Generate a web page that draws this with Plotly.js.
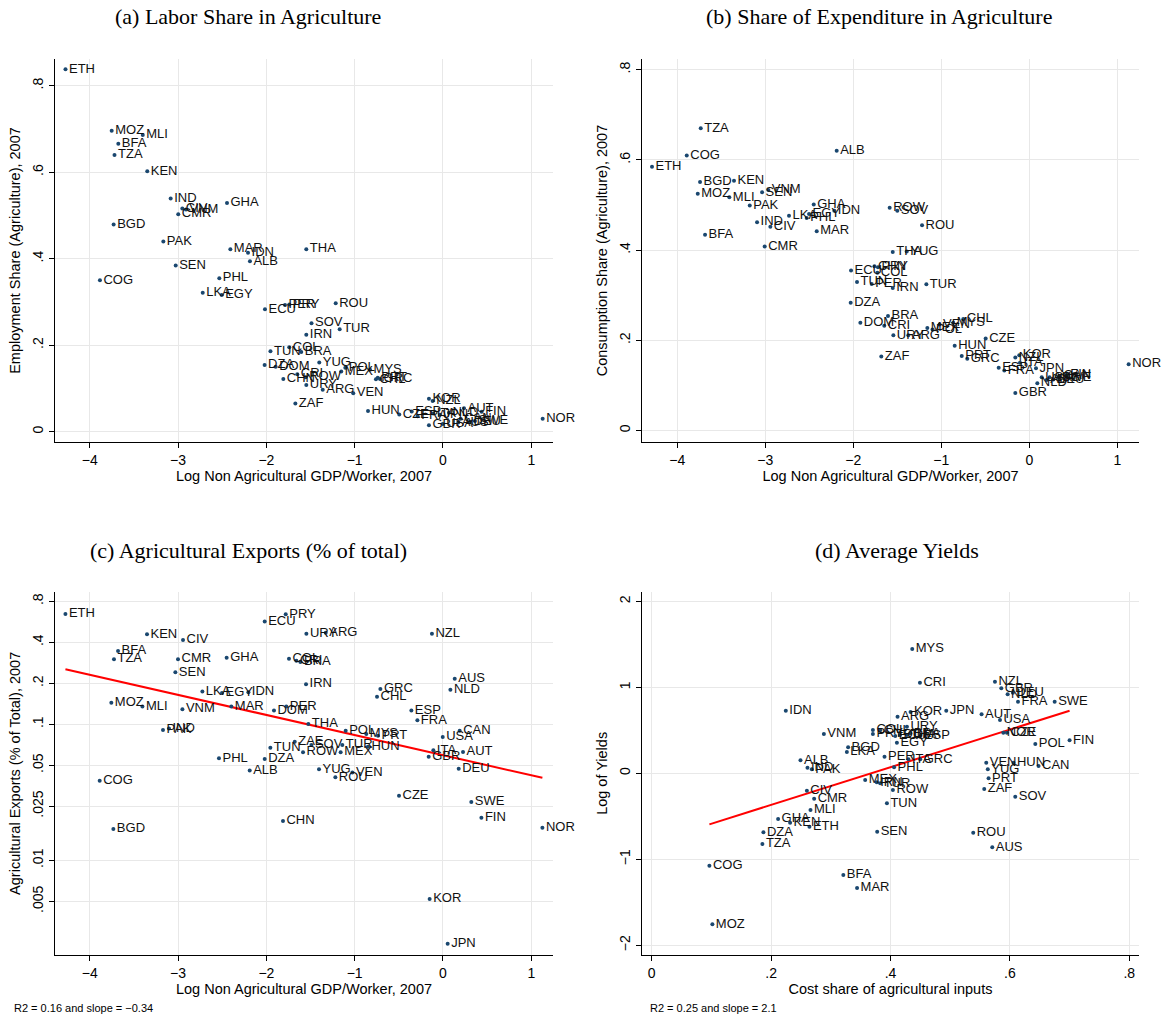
<!DOCTYPE html>
<html>
<head>
<meta charset="utf-8">
<script src="https://cdn.plot.ly/plotly-3.0.1.min.js"></script>
<style>html,body{margin:0;padding:0;background:#fff}#chart{width:1161px;height:1023px}</style>
</head>
<body>
<div id="chart"></div>
<script>
// ---------- Panel (a): Labor share in agriculture ----------
const countriesA = ["ETH","MOZ","MLI","BFA","TZA","KEN","IND","CIV","VNM","CMR","GHA","BGD","PAK","MAR","IDN","ALB","THA","SEN","COG","PHL","LKA","EGY","ECU","PER","PRY","ROU","SOV","TUR","IRN","COL","TUN","BRA","YUG","DZA","DOM","CRI","MEX","POL","MYS","CHN","ROW","URY","ARG","VEN","CHL","PRT","GRC","ZAF","HUN","CZE","KOR","NZL","ESP","FRA","ITA","JPN","NLD","AUT","FIN","GBR","USA","AUS","DEU","SWE","CAN","NOR"];
const logGdpA = [-4.275,-3.752,-3.40,-3.677,-3.72,-3.349,-3.084,-2.952,-2.91,-2.998,-2.446,-3.73,-3.167,-2.408,-2.208,-2.186,-1.548,-3.027,-3.885,-2.533,-2.721,-2.506,-2.016,-1.789,-1.74,-1.215,-1.489,-1.170,-1.548,-1.741,-1.954,-1.605,-1.401,-2.020,-1.895,-1.65,-1.152,-1.106,-0.826,-1.808,-1.555,-1.548,-1.362,-1.016,-0.759,-0.739,-0.713,-1.672,-0.849,-0.495,-0.159,-0.117,-0.354,-0.287,-0.11,-0.034,0.068,0.238,0.438,-0.159,-0.003,0.174,0.306,0.362,0.20,1.129];
const empShareA = [0.838,0.696,0.686,0.666,0.640,0.602,0.539,0.516,0.514,0.503,0.529,0.479,0.440,0.422,0.414,0.394,0.422,0.384,0.350,0.355,0.321,0.316,0.283,0.293,0.294,0.297,0.251,0.237,0.224,0.195,0.186,0.184,0.160,0.154,0.150,0.133,0.139,0.148,0.143,0.122,0.126,0.108,0.097,0.089,0.121,0.125,0.122,0.065,0.048,0.040,0.076,0.071,0.047,0.036,0.042,0.039,0.044,0.054,0.046,0.015,0.018,0.021,0.023,0.025,0.030,0.030];

// ---------- Panel (b): Share of expenditure in agriculture ----------
const countriesB = ["TZA","COG","ALB","ETH","BGD","KEN","MOZ","MLI","SEN","VNM","PAK","GHA","IDN","LKA","EGY","PHL","IND","CIV","MAR","BFA","CMR","ROW","SOV","ROU","THA","YUG","ECU","CHN","PRY","COL","TUN","PER","IRN","TUR","DZA","BRA","DOM","CRI","URY","ARG","MEX","POL","VEN","MYS","CHL","CZE","HUN","PRT","GRC","ESP","FRA","NZL","KOR","ITA","JPN","USA","NLD","AUT","DEU","SWE","FIN","CAN","AUS","GBR","NOR","ZAF"];
const logGdpB = [-3.734,-3.893,-2.189,-4.288,-3.742,-3.356,-3.768,-3.409,-3.037,-2.966,-3.177,-2.45,-2.216,-2.731,-2.503,-2.53,-3.094,-2.943,-2.416,-3.685,-3.007,-1.587,-1.5,-1.219,-1.552,-1.393,-2.026,-1.76,-1.72,-1.727,-1.958,-1.791,-1.552,-1.170,-2.03,-1.606,-1.92,-1.648,-1.545,-1.375,-1.159,-1.10,-1.02,-0.864,-0.75,-0.496,-0.848,-0.768,-0.705,-0.348,-0.284,-0.159,-0.114,-0.106,0.076,0.141,0.091,0.197,0.273,0.330,0.425,0.349,0.23,-0.159,1.129,-1.682];
const consShareB = [0.670,0.610,0.620,0.585,0.551,0.554,0.525,0.517,0.528,0.533,0.499,0.501,0.487,0.476,0.480,0.471,0.462,0.452,0.442,0.434,0.408,0.494,0.487,0.455,0.396,0.397,0.355,0.364,0.362,0.350,0.329,0.325,0.316,0.324,0.283,0.254,0.239,0.232,0.211,0.211,0.227,0.224,0.235,0.239,0.247,0.204,0.188,0.165,0.159,0.139,0.133,0.162,0.167,0.150,0.138,0.118,0.105,0.112,0.113,0.118,0.123,0.121,0.118,0.083,0.147,0.164];

// ---------- Panel (c): Agricultural exports (% of total) ----------
const countriesC = ["ETH","KEN","CIV","BFA","TZA","CMR","GHA","SEN","ECU","PRY","URY","ARG","COL","CRI","BRA","IRN","LKA","EGY","IDN","MOZ","MLI","VNM","MAR","DOM","PER","THA","PAK","IND","TUN","ZAE","SOV","ROW","PHL","DZA","ALB","COG","YUG","BGD","CHN","NZL","AUS","NLD","GRC","CHL","ESP","FRA","POL","MYS","PRT","HUN","TUR","MEX","ROU","VEN","CZE","USA","CAN","ITA","GBR","AUT","DEU","SWE","FIN","NOR","KOR","JPN"];
const logGdpC = [-4.276,-3.352,-2.944,-3.68,-3.726,-3.001,-2.450,-3.031,-2.019,-1.781,-1.547,-1.328,-1.744,-1.66,-1.615,-1.551,-2.725,-2.503,-2.204,-3.756,-3.404,-2.951,-2.397,-1.914,-1.774,-1.525,-3.171,-3.103,-1.955,-1.679,-1.49,-1.585,-2.537,-2.019,-2.189,-3.888,-1.404,-3.733,-1.812,-0.125,0.133,0.084,-0.709,-0.747,-0.358,-0.29,-1.102,-0.868,-0.736,-0.85,-1.14,-1.159,-1.219,-1.026,-0.498,-0.003,0.189,-0.109,-0.162,0.227,0.178,0.321,0.435,1.126,-0.151,0.053];
const exportShareC = [0.646,0.458,0.416,0.345,0.301,0.301,0.308,0.241,0.570,0.642,0.463,0.471,0.303,0.293,0.287,0.197,0.174,0.170,0.172,0.144,0.135,0.129,0.135,0.126,0.135,0.1005,0.0908,0.093,0.0673,0.0745,0.0705,0.0623,0.0562,0.0556,0.0457,0.0385,0.0467,0.0170,0.0195,0.463,0.216,0.179,0.182,0.159,0.126,0.107,0.0898,0.085,0.0825,0.0685,0.0705,0.0623,0.0408,0.0442,0.0299,0.0807,0.0898,0.0644,0.0578,0.0626,0.0472,0.0268,0.0206,0.0174,0.0052,0.00244];
const fitC = {intercept: -2.825, slope: -0.34};   // ln(share) = a + b*x
const yTicksC = [0.005,0.01,0.025,0.05,0.1,0.2,0.4,0.8];
const yTickTextC = [".005",".01",".025",".05",".1",".2",".4",".8"];

// ---------- Panel (d): Average yields ----------
const countriesD = ["IDN","VNM","ALB","IND","PAK","CIV","CMR","MLI","GHA","KEN","ETH","DZA","TZA","COG","MOZ","BFA","MAR","MYS","CRI","ARG","KOR","JPN","AUT","USA","URY","COL","CHL","PRY","ECU","DOM","THA","BRA","ESP","EGY","NOR","CZE","NZL","GBR","NLD","DEU","FRA","SWE","POL","FIN","CAN","VEN","HUN","YUG","PRT","ZAF","SOV","ROU","AUS","BGD","LKA","PER","ITA","GRC","PHL","MEX","IRN","TUR","ROW","TUN","SEN"];
const costShareD = [0.2246,0.2884,0.2492,0.2609,0.2682,0.2599,0.2721,0.266,0.2117,0.2318,0.2642,0.1871,0.1854,0.0966,0.1016,0.321,0.344,0.4364,0.4493,0.4118,0.4336,0.4934,0.5526,0.5834,0.4275,0.3705,0.3827,0.3705,0.408,0.416,0.4275,0.433,0.45,0.4107,0.589,0.595,0.575,0.5856,0.5962,0.605,0.6136,0.675,0.6426,0.700,0.648,0.5604,0.606,0.563,0.5643,0.557,0.609,0.5386,0.5705,0.329,0.3269,0.390,0.430,0.4498,0.406,0.3576,0.377,0.3827,0.404,0.394,0.3777];
const logYieldD = [0.728,0.457,0.151,0.065,0.046,-0.202,-0.295,-0.427,-0.531,-0.574,-0.621,-0.686,-0.822,-1.074,-1.756,-1.183,-1.334,1.445,1.054,0.658,0.713,0.728,0.686,0.620,0.542,0.503,0.500,0.457,0.434,0.445,0.445,0.465,0.434,0.356,0.472,0.472,1.065,0.988,0.918,0.937,0.833,0.833,0.341,0.383,0.085,0.123,0.123,0.046,-0.058,-0.183,-0.272,-0.690,-0.861,0.302,0.248,0.193,0.163,0.163,0.070,-0.078,-0.105,-0.116,-0.194,-0.349,-0.679];
const fitD = {intercept: -0.805, slope: 2.19};

// ---------- drawing ----------
const NAVY = '#1a476f';
const SANS = 'Liberation Sans, Arial, Helvetica, sans-serif';
const SERIF = 'Liberation Serif, Times New Roman, serif';

function pts(x, y, names, xa, ya) {
  return {
    type: 'scatter', mode: 'markers+text', x: x, y: y, text: names,
    textposition: 'middle right',
    textfont: {family: SANS, size: 13, color: '#111'},
    marker: {color: NAVY, size: 4},
    xaxis: xa, yaxis: ya, cliponaxis: false, hoverinfo: 'skip', showlegend: false
  };
}
const minOf = a => Math.min.apply(null, a);
const maxOf = a => Math.max.apply(null, a);

const fxC = [minOf(logGdpC), maxOf(logGdpC)];
const fyC = fxC.map(v => Math.exp(fitC.intercept + fitC.slope * v));
const fxD = [minOf(costShareD), maxOf(costShareD)];
const fyD = fxD.map(v => fitD.intercept + fitD.slope * v);

const data = [
  pts(logGdpA, empShareA, countriesA, 'x', 'y'),
  pts(logGdpB, consShareB, countriesB, 'x2', 'y2'),
  {type:'scatter', mode:'lines', x: fxC, y: fyC, xaxis:'x3', yaxis:'y3', line:{color:'#ff0000', width:2}, hoverinfo:'skip', showlegend:false},
  pts(logGdpC, exportShareC, countriesC, 'x3', 'y3'),
  {type:'scatter', mode:'lines', x: fxD, y: fyD, xaxis:'x4', yaxis:'y4', line:{color:'#ff0000', width:2}, hoverinfo:'skip', showlegend:false},
  pts(costShareD, logYieldD, countriesD, 'x4', 'y4')
];

const W = 1161, H = 1023;
const dx = (a, b) => [a / W, b / W];
const dy = (top, bottom) => [1 - bottom / H, 1 - top / H];

function xax(domain, range, anchor, tickvals, ticktext, title) {
  return {
    domain: domain, range: range, anchor: anchor,
    tickvals: tickvals, ticktext: ticktext,
    showline: true, linecolor: '#000', linewidth: 1,
    ticks: 'outside', ticklen: 5, tickcolor: '#000',
    showgrid: true, gridcolor: '#e8e8e8', gridwidth: 1, zeroline: false,
    tickfont: {family: SANS, size: 14, color: '#000'},
    title: {text: title, font: {family: SANS, size: 14.5, color: '#000'}, standoff: 2}
  };
}
function yax(domain, range, anchor, tickvals, ticktext, title, type) {
  const o = xax(domain, range, anchor, tickvals, ticktext, title);
  o.tickangle = -90;
  o.title.standoff = 6;
  if (type) o.type = type;
  return o;
}

const xTicksGdp = [-4,-3,-2,-1,0,1];
const xTickTextGdp = ['\u22124','\u22123','\u22122','\u22121','0','1'];
const yTicksA = [0,0.2,0.4,0.6,0.8];
const yTickTextA = ['0','.2','.4','.6','.8'];
const gdpTitle = 'Log Non Agricultural GDP/Worker, 2007';

const layout = {
  width: W, height: H,
  margin: {l: 0, r: 0, t: 0, b: 0},
  paper_bgcolor: '#fff', plot_bgcolor: '#fff',
  showlegend: false,
  xaxis:  xax(dx(55, 553), [-4.394, 1.246], 'y', xTicksGdp, xTickTextGdp, gdpTitle),
  yaxis:  yax(dy(59, 442), [-0.0238, 0.8617], 'x', yTicksA, yTickTextA, 'Employment Share (Agriculture), 2007'),
  xaxis2: xax(dx(641.7, 1139.3), [-4.405, 1.25], 'y2', xTicksGdp, xTickTextGdp, gdpTitle),
  yaxis2: yax(dy(59, 442), [-0.0255, 0.8237], 'x2', yTicksA, yTickTextA, 'Consumption Share (Agriculture), 2007'),
  xaxis3: xax(dx(55, 553), [-4.394, 1.246], 'y3', xTicksGdp, xTickTextGdp, gdpTitle),
  yaxis3: yax(dy(591.7, 955), [-2.695, -0.026], 'x3', yTicksC, yTickTextC, 'Agricultural Exports (% of Total), 2007', 'log'),
  xaxis4: xax(dx(641.7, 1139.3), [-0.0168, 0.8168], 'y4', [0,0.2,0.4,0.6,0.8], ['0','.2','.4','.6','.8'], 'Cost share of agricultural inputs'),
  yaxis4: yax(dy(591.7, 955), [-2.113, 2.112], 'x4', [-2,-1,0,1,2], ['\u22122','\u22121','0','1','2'], 'Log of Yields'),
  annotations: [
    {text: '(a) Labor Share in Agriculture', x: 248/W, y: 1 - 17/H},
    {text: '(b) Share of Expenditure in Agriculture', x: 879/W, y: 1 - 17/H},
    {text: '(c) Agricultural Exports (% of total)', x: 248/W, y: 1 - 550/H},
    {text: '(d) Average Yields', x: 897/W, y: 1 - 550/H}
  ].map(a => Object.assign(a, {xref:'paper', yref:'paper', xanchor:'center', yanchor:'middle', showarrow:false, font:{family: SERIF, size: 22, color:'#000'}}))
  .concat([
    {text: 'R2 = 0.16 and slope = \u22120.34', x: 12/W, y: 1 - 1008/H},
    {text: 'R2 = 0.25 and slope = 2.1', x: 648/W, y: 1 - 1008/H}
  ].map(a => Object.assign(a, {xref:'paper', yref:'paper', xanchor:'left', yanchor:'middle', showarrow:false, font:{family: SANS, size: 11, color:'#000'}})))
};

Plotly.newPlot('chart', data, layout, {staticPlot: true, displayModeBar: false});
</script>
</body>
</html>
